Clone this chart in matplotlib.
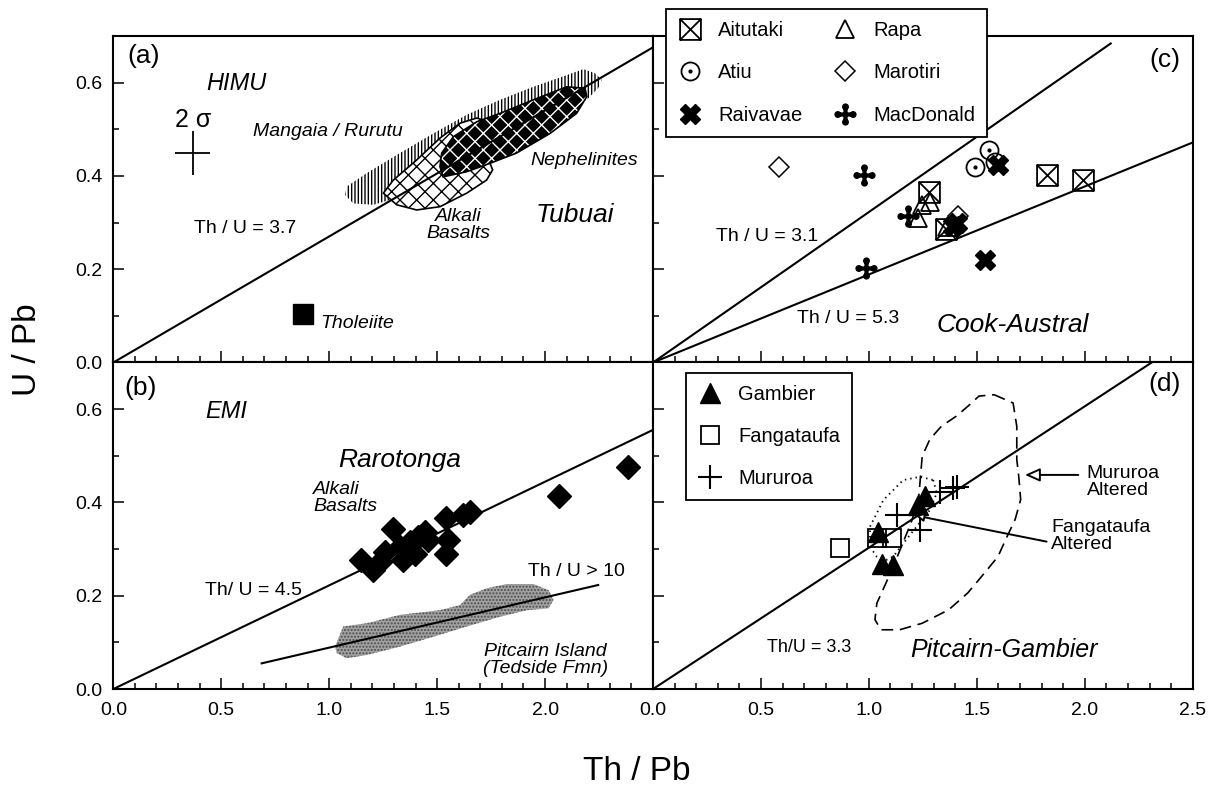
import matplotlib
matplotlib.use("Agg")
import matplotlib.pyplot as plt
from matplotlib.path import Path
from matplotlib.ticker import MultipleLocator, FixedLocator, FuncFormatter

plt.rcParams['font.family'] = ['Liberation Sans', 'DejaVu Sans']
plt.rcParams['hatch.linewidth'] = 1.0

# ---- panel (a): Tubuai / HIMU ----
thu_a = 3.7
tholeiite_x, tholeiite_y = [0.877], [0.105]
err_x, err_y, err_dx, err_dy = 0.368, 0.449, 0.080, 0.048

mangaia_x = [1.081, 1.174, 1.328, 1.482, 1.637, 1.791, 1.945, 2.100, 2.177, 2.231, 2.262,
             2.246, 2.193, 2.023, 1.791, 1.560, 1.328, 1.204, 1.112, 1.073]
mangaia_y = [0.377, 0.406, 0.449, 0.491, 0.531, 0.563, 0.591, 0.616, 0.629, 0.620, 0.606,
             0.588, 0.563, 0.520, 0.463, 0.413, 0.355, 0.338, 0.341, 0.359]
alkali_x = [1.251, 1.313, 1.405, 1.513, 1.637, 1.729, 1.757, 1.745, 1.714, 1.683, 1.606,
            1.513, 1.405, 1.297]
alkali_y = [0.363, 0.338, 0.327, 0.334, 0.363, 0.391, 0.413, 0.427, 0.520, 0.524, 0.513,
            0.481, 0.434, 0.391]
neph_x = [1.513, 1.528, 1.637, 1.745, 1.868, 2.023, 2.146, 2.193, 2.185, 2.100, 1.945,
          1.791, 1.683, 1.575, 1.521]
neph_y = [0.420, 0.398, 0.409, 0.427, 0.449, 0.491, 0.534, 0.570, 0.588, 0.591, 0.563,
          0.534, 0.516, 0.484, 0.449]

# ---- panel (b): Rarotonga / EMI ----
thu_b = 4.5
raro_x = [1.149, 1.203, 1.234, 1.257, 1.295, 1.341, 1.326, 1.372, 1.396, 1.411, 1.442,
          1.457, 1.542, 1.550, 1.542, 1.619, 1.653, 2.066, 2.382]
raro_y = [0.276, 0.255, 0.273, 0.293, 0.343, 0.276, 0.304, 0.315, 0.290, 0.325, 0.336,
          0.319, 0.366, 0.319, 0.290, 0.372, 0.379, 0.413, 0.476]
tedside_line_x = [0.687, 2.246]
tedside_line_y = [0.055, 0.223]
pitcairn_x = [1.027, 1.065, 1.174, 1.328, 1.513, 1.606, 1.652, 1.730, 1.822, 1.946, 2.016,
              2.039, 2.016, 1.916, 1.791, 1.637, 1.482, 1.328, 1.174, 1.081, 1.035]
pitcairn_y = [0.091, 0.134, 0.141, 0.159, 0.169, 0.180, 0.202, 0.216, 0.225, 0.225, 0.212,
              0.191, 0.173, 0.169, 0.155, 0.134, 0.112, 0.091, 0.073, 0.066, 0.077]

# ---- panel (c): Cook-Austral ----
thu_c1, thu_c1_xmax = 3.1, 2.12
thu_c2 = 5.3
aitutaki_x = [1.280, 1.356, 1.826, 1.992]
aitutaki_y = [0.365, 0.286, 0.402, 0.392]
rapa_x = [1.229, 1.245, 1.283, 1.360]
rapa_y = [0.309, 0.338, 0.345, 0.290]
atiu_x = [1.493, 1.554, 1.585]
atiu_y = [0.420, 0.456, 0.430]
raivavae_x = [1.388, 1.410, 1.598, 1.536]
raivavae_y = [0.292, 0.300, 0.424, 0.220]
marotiri_x = [0.585, 1.414]
marotiri_y = [0.420, 0.315]
macdonald_x = [0.976, 0.988, 1.183]
macdonald_y = [0.402, 0.202, 0.314]

# ---- panel (d): Pitcairn-Gambier ----
thu_d = 3.3
gambier_x = [1.044, 1.059, 1.113, 1.229, 1.262]
gambier_y = [0.337, 0.269, 0.266, 0.395, 0.414]
fanga_x = [0.866, 1.036, 1.106]
fanga_y = [0.302, 0.323, 0.323]
mururoa_x = [1.129, 1.237, 1.329, 1.390, 1.410]
mururoa_y = [0.373, 0.341, 0.423, 0.430, 0.434]
mur_alt_x = [1.580, 1.668, 1.685, 1.685, 1.694, 1.703, 1.677, 1.633, 1.598, 1.536, 1.458,
             1.370, 1.247, 1.142, 1.055, 1.028, 1.037, 1.072, 1.107, 1.151, 1.195, 1.230,
             1.239, 1.247, 1.282, 1.335, 1.405, 1.458, 1.510, 1.580]
mur_alt_y = [0.631, 0.613, 0.563, 0.492, 0.456, 0.406, 0.363, 0.320, 0.284, 0.249, 0.206,
             0.170, 0.141, 0.127, 0.127, 0.149, 0.184, 0.220, 0.256, 0.306, 0.356, 0.406,
             0.456, 0.499, 0.535, 0.563, 0.585, 0.606, 0.628, 0.631]
fan_alt_x = [1.298, 1.314, 1.283, 1.221, 1.159, 1.113, 1.082, 1.036, 1.005, 1.005, 1.067,
             1.159, 1.237, 1.298]
fan_alt_y = [0.448, 0.420, 0.384, 0.348, 0.312, 0.284, 0.277, 0.284, 0.305, 0.348, 0.405,
             0.448, 0.455, 0.448]


def macdonald_marker():
    w = 0.14
    verts, codes = [], []
    for x0, y0, x1, y1 in [(-w, -0.75, w, 0.75), (-0.75, -w, 0.75, w)]:
        verts += [(x0, y0), (x1, y0), (x1, y1), (x0, y1), (x0, y0)]
        codes += [Path.MOVETO, Path.LINETO, Path.LINETO, Path.LINETO, Path.CLOSEPOLY]
    bars = Path(verts, codes)
    dots = [Path.circle(c, 0.27) for c in [(0, 0.75), (0, -0.75), (0.75, 0), (-0.75, 0)]]
    return Path.make_compound_path(bars, Path.circle((0, 0), 0.22), *dots)


def boxed_x_marker():
    verts = [(-1, -1), (1, -1), (1, 1), (-1, 1), (-1, -1), (-1, -1), (1, 1), (-1, 1), (1, -1)]
    codes = [Path.MOVETO, Path.LINETO, Path.LINETO, Path.LINETO, Path.CLOSEPOLY,
             Path.MOVETO, Path.LINETO, Path.MOVETO, Path.LINETO]
    return Path(verts, codes)


fig = plt.figure(figsize=(12.12, 7.87), dpi=100)
L, R, W = 0.0935, 0.5388, 0.4453
B0, H = 0.1245, 0.4149
B1 = B0 + H
ax_a = fig.add_axes([L, B1, W, H])
ax_b = fig.add_axes([L, B0, W, H])
ax_c = fig.add_axes([R, B1, W, H])
ax_d = fig.add_axes([R, B0, W, H])

fmt = FuncFormatter(lambda v, p: f"{v:.1f}")
fmt_left = FuncFormatter(lambda v, p: "" if v > 2.25 else f"{v:.1f}")
for ax in (ax_a, ax_b, ax_c, ax_d):
    ax.set_xlim(0, 2.5)
    ax.set_ylim(0, 0.7)
    ax.xaxis.set_major_locator(MultipleLocator(0.5))
    ax.xaxis.set_minor_locator(MultipleLocator(0.1))
    ax.yaxis.set_major_locator(FixedLocator([0, 0.2, 0.4, 0.6]))
    ax.yaxis.set_minor_locator(MultipleLocator(0.1))
    ax.tick_params(which='both', direction='in', top=False, right=False, width=1.1,
                   labelsize=14)
    ax.tick_params(which='major', length=8)
    ax.tick_params(which='minor', length=4)
    ax.tick_params(axis='x', pad=9)
    ax.tick_params(axis='y', pad=8)
    ax.xaxis.set_major_formatter(fmt)
    ax.yaxis.set_major_formatter(fmt)
    for s in ax.spines.values():
        s.set_linewidth(1.5)
for ax in (ax_a, ax_c):
    ax.tick_params(labelbottom=False)
for ax in (ax_c, ax_d):
    ax.tick_params(labelleft=False)
ax_b.xaxis.set_major_formatter(fmt_left)

lw = 1.5
ital = dict(style='italic')
leg_kw = dict(fontsize=14.5, frameon=True, fancybox=False, framealpha=1,
              edgecolor='black', borderaxespad=0, handlelength=1.2, handletextpad=0.8,
              labelspacing=1.15, borderpad=0.6)

# (a)
ax_a.fill(mangaia_x, mangaia_y, facecolor='none', edgecolor='black', hatch='|||||',
          linewidth=0, zorder=1)
ax_a.fill(alkali_x, alkali_y, facecolor='white', edgecolor='black', hatch='xx',
          linewidth=1.2, zorder=2)
ax_a.fill(neph_x, neph_y, facecolor='black', edgecolor='white', hatch='xx',
          linewidth=0, zorder=3)
ax_a.fill(neph_x, neph_y, fill=False, edgecolor='black', linewidth=1.2, zorder=3)
ax_a.plot([0, 2.5], [0, 2.5 / thu_a], color='black', lw=lw, zorder=4)
ax_a.plot(tholeiite_x, tholeiite_y, 's', color='black', ms=14, zorder=5)
ax_a.errorbar([err_x], [err_y], xerr=err_dx, yerr=err_dy, fmt='none', ecolor='black',
              elinewidth=1.3, capsize=0)
ax_a.text(0.14, 0.656, "(a)", fontsize=19, ha='center', va='center')
ax_a.text(0.571, 0.599, "HIMU", fontsize=17, ha='center', va='center', **ital)
ax_a.text(0.371, 0.520, "2 σ", fontsize=18, ha='center', va='center')
ax_a.text(0.61, 0.288, "Th / U = 3.7", fontsize=14, ha='center', va='center')
ax_a.text(0.957, 0.084, "Tholeiite", fontsize=14, ha='left', va='center', **ital)
ax_a.text(0.996, 0.495, "Mangaia / Rurutu", fontsize=14, ha='center', va='center', **ital)
ax_a.text(1.60, 0.295, "Alkali\nBasalts", fontsize=14, ha='center', va='center',
          linespacing=1.0, **ital)
ax_a.text(1.93, 0.434, "Nephelinites", fontsize=14, ha='left', va='center', **ital)
ax_a.text(2.138, 0.316, "Tubuai", fontsize=19, ha='center', va='center', **ital)

# (b)
ax_b.fill(pitcairn_x, pitcairn_y, facecolor='#a2a2a2', edgecolor='#4e4e4e', hatch='.....',
          linewidth=0, zorder=1)
ax_b.plot([0, 2.5], [0, 2.5 / thu_b], color='black', lw=lw, zorder=3)
ax_b.plot(tedside_line_x, tedside_line_y, color='black', lw=lw, zorder=3)
ax_b.plot(raro_x, raro_y, 'D', color='black', ms=12, zorder=4)
ax_b.text(0.124, 0.645, "(b)", fontsize=19, ha='center', va='center')
ax_b.text(0.525, 0.595, "EMI", fontsize=17, ha='center', va='center', **ital)
ax_b.text(0.648, 0.212, "Th/ U = 4.5", fontsize=14, ha='center', va='center')
ax_b.text(2.146, 0.251, "Th / U > 10", fontsize=14, ha='center', va='center')
ax_b.text(1.328, 0.491, "Rarotonga", fontsize=19, ha='center', va='center', **ital)
ax_b.text(0.926, 0.409, "Alkali\nBasalts", fontsize=14, ha='left', va='center',
          linespacing=1.0, **ital)
ax_b.text(2.0, 0.062, "Pitcairn Island\n(Tedside Fmn)", fontsize=14, ha='center',
          va='center', linespacing=1.0, **ital)

# (c)
ax_c.plot([0, thu_c1_xmax], [0, thu_c1_xmax / thu_c1], color='black', lw=lw, zorder=2)
ax_c.plot([0, 2.5], [0, 2.5 / thu_c2], color='black', lw=lw, zorder=2)
h_ait, = ax_c.plot(aitutaki_x, aitutaki_y, ls='none', marker=boxed_x_marker(), ms=15,
                   mfc='none', mec='black', mew=1.3, label='Aitutaki')
h_rapa, = ax_c.plot(rapa_x, rapa_y, '^', ls='none', ms=13, mfc='none', mec='black',
                    mew=1.3, label='Rapa')
h_atiu1, = ax_c.plot(atiu_x, atiu_y, 'o', ls='none', ms=13, mfc='none', mec='black',
                     mew=1.3)
h_atiu2, = ax_c.plot(atiu_x, atiu_y, '.', ls='none', ms=4, color='black')
h_mar, = ax_c.plot(marotiri_x, marotiri_y, 'D', ls='none', ms=10, mfc='none',
                   mec='black', mew=1.1, label='Marotiri')
h_rai, = ax_c.plot(raivavae_x, raivavae_y, 'X', ls='none', ms=15, color='black',
                   label='Raivavae')
h_mac, = ax_c.plot(macdonald_x, macdonald_y, ls='none', marker=macdonald_marker(), ms=15,
                   color='black', label='MacDonald')
ax_c.text(0.529, 0.270, "Th / U = 3.1", fontsize=14, ha='center', va='center')
ax_c.text(0.906, 0.095, "Th / U = 5.3", fontsize=14, ha='center', va='center')
ax_c.text(1.668, 0.081, "Cook-Austral", fontsize=19, ha='center', va='center', **ital)
ax_c.text(2.369, 0.649, "(c)", fontsize=19, ha='center', va='center')
leg_c = ax_c.legend([h_ait, (h_atiu1, h_atiu2), h_rai, h_rapa, h_mar, h_mac],
                    ['Aitutaki', 'Atiu', 'Raivavae', 'Rapa', 'Marotiri', 'MacDonald'],
                    ncol=2, loc='upper left', bbox_to_anchor=(0.024, 1.082),
                    columnspacing=1.5, **leg_kw)
leg_c.get_frame().set_linewidth(1.3)
leg_c.set_zorder(10)

# (d)
ax_d.plot([0, 0.7 * thu_d], [0, 0.7], color='black', lw=lw, zorder=2)
ax_d.plot(mur_alt_x, mur_alt_y, color='black', lw=1.2, ls=(0, (7, 4)), zorder=2)
ax_d.plot(fan_alt_x, fan_alt_y, color='black', lw=1.3, ls=(0, (0.8, 2.2)), zorder=2)
h_gam, = ax_d.plot(gambier_x, gambier_y, '^', ls='none', ms=14, color='black',
                   label='Gambier')
h_fan, = ax_d.plot(fanga_x, fanga_y, 's', ls='none', ms=13, mfc='none', mec='black',
                   mew=1.3, label='Fangataufa')
h_mur, = ax_d.plot(mururoa_x, mururoa_y, '+', ls='none', ms=17, color='black',
                   mew=1.5, label='Mururoa')
ax_d.annotate('', xy=(1.723, 0.459), xytext=(1.970, 0.459),
              arrowprops=dict(arrowstyle='-|>,head_length=0.9,head_width=0.4',
                              fc='white', ec='black', lw=1.4, shrinkA=0, shrinkB=0))
ax_d.annotate('', xy=(1.215, 0.372), xytext=(1.823, 0.316),
              arrowprops=dict(arrowstyle='-|>,head_length=0.5,head_width=0.25',
                              fc='white', ec='black', lw=1.4, shrinkA=0, shrinkB=0))
ax_d.text(2.009, 0.444, "Mururoa\nAltered", fontsize=14, ha='left', va='center',
          linespacing=1.0)
ax_d.text(1.843, 0.327, "Fangataufa\nAltered", fontsize=14, ha='left', va='center',
          linespacing=1.0)
ax_d.text(0.722, 0.088, "Th/U = 3.3", fontsize=13, ha='center', va='center')
ax_d.text(1.624, 0.084, "Pitcairn-Gambier", fontsize=18, ha='center', va='center', **ital)
ax_d.text(2.369, 0.653, "(d)", fontsize=19, ha='center', va='center')
leg_d = ax_d.legend([h_gam, h_fan, h_mur], ['Gambier', 'Fangataufa', 'Mururoa'],
                    loc='upper left', bbox_to_anchor=(0.061, 0.968), **leg_kw)
leg_d.get_frame().set_linewidth(1.3)

fig.text(28 / 1212, 1 - 350 / 787, "U / Pb", fontsize=24, rotation=90,
         ha='center', va='center')
fig.text(637 / 1212, 1 - 771 / 787, "Th / Pb", fontsize=24, ha='center', va='center')

fig.savefig("out.png", dpi=100)
